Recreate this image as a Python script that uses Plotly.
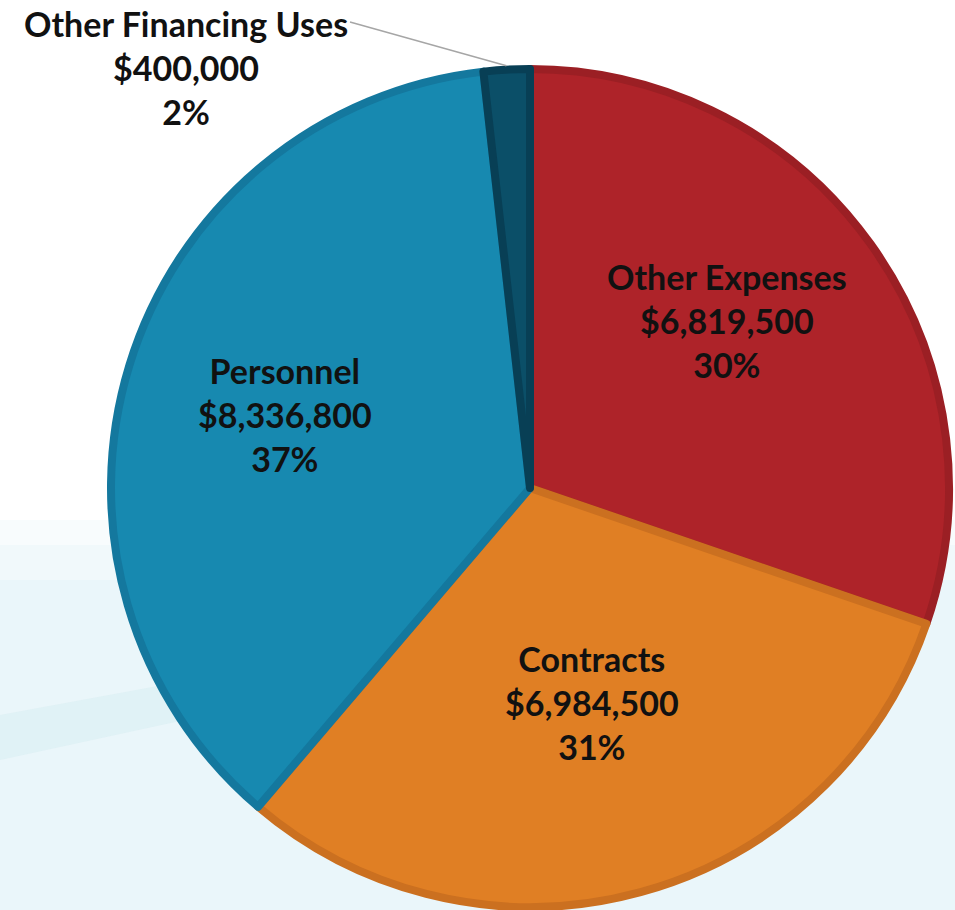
import math
import plotly.graph_objects as go

# ---- data ----
categories = ["Other Expenses", "Contracts", "Personnel", "Other Financing Uses"]
amounts = [6819500, 6984500, 8336800, 400000]
fill_colors = ["#ae2329", "#e07f24", "#1789b0", "#0b4f68"]
edge_colors = ["#9b1f24", "#cb7020", "#14789e", "#083f55"]
label_radius_frac = [0.617, 0.534, 0.61, None]  # None -> outside label
label_angle_adj = [-4.7, -0.8, -0.4, 0.0]

W, H = 955, 910
CX, CY = 530, 488          # pie centre in pixels
R = 419                    # path radius in pixels
LW = 8                     # slice border width

fig = go.Figure()
fig.add_trace(go.Pie(
    labels=categories,
    values=amounts,
    sort=False,
    direction="clockwise",
    rotation=0,
    marker=dict(colors=fill_colors, line=dict(color=edge_colors, width=LW)),
    textinfo="none",
    hoverinfo="label+value+percent",
    showlegend=False,
    domain=dict(x=[(CX - R) / W, (CX + R) / W],
                y=[(H - CY - R) / H, (H - CY + R) / H]),
))

total = sum(amounts)
font = dict(family="Lato", size=34, color="#111111", weight=700)

annotations = []
shapes = []
cum = 0.0
for cat, amt, frac, adj in zip(categories, amounts, label_radius_frac, label_angle_adj):
    start = cum / total * 360
    cum += amt
    end = cum / total * 360
    mid = math.radians((start + end) / 2 + adj)
    pct = round(amt / total * 100)
    text = f"{cat}<br>${amt:,}<br>{pct}%"
    if frac is not None:
        px = CX + frac * R * math.sin(mid)
        py = CY - frac * R * math.cos(mid)
        annotations.append(dict(x=px / W, y=1 - py / H, xref="paper", yref="paper",
                                text=text, showarrow=False, font=font,
                                xanchor="center", yanchor="middle", align="center"))
    else:
        # outside label, top-left, with leader line to slice edge
        annotations.append(dict(x=186 / W, y=1 - 68 / H, xref="paper", yref="paper",
                                text=text, showarrow=False, font=font,
                                xanchor="center", yanchor="middle", align="center"))
        ex = CX + (R + LW / 2) * math.sin(mid)
        ey = CY - (R + LW / 2) * math.cos(mid)
        shapes.append(dict(type="line", xref="paper", yref="paper",
                           x0=350 / W, y0=1 - 22 / H, x1=ex / W, y1=1 - ey / H,
                           line=dict(color="#a6a6a6", width=1.5), layer="above"))

# background decoration (soft light-blue lower area and band)
bg = [
    (520, 545, "#f8fcfd"),
    (545, 580, "#f1f9fb"),
    (580, 910, "#eaf6fa"),
]
for y0, y1, c in bg:
    shapes.append(dict(type="rect", xref="paper", yref="paper", x0=0, x1=1,
                       y0=1 - y1 / H, y1=1 - y0 / H, fillcolor=c,
                       line=dict(width=0), layer="below"))
band = "M 0,{a} L {b},{c} L {b},{d} L 0,{e} Z".format(
    a=1 - 715 / H, b=300 / W, c=1 - 660 / H, d=1 - 695 / H, e=1 - 760 / H)
shapes.append(dict(type="path", xref="paper", yref="paper", path=band,
                   fillcolor="#d6edf2", opacity=0.5, line=dict(width=0), layer="below"))

fig.update_layout(
    width=W, height=H,
    margin=dict(l=0, r=0, t=0, b=0),
    paper_bgcolor="#ffffff",
    plot_bgcolor="#ffffff",
    annotations=annotations,
    shapes=shapes,
)

fig.write_html("out.html",
               config={"displayModeBar": False},
               post_script="document.body.style.margin='0';document.body.style.overflow='hidden';")
